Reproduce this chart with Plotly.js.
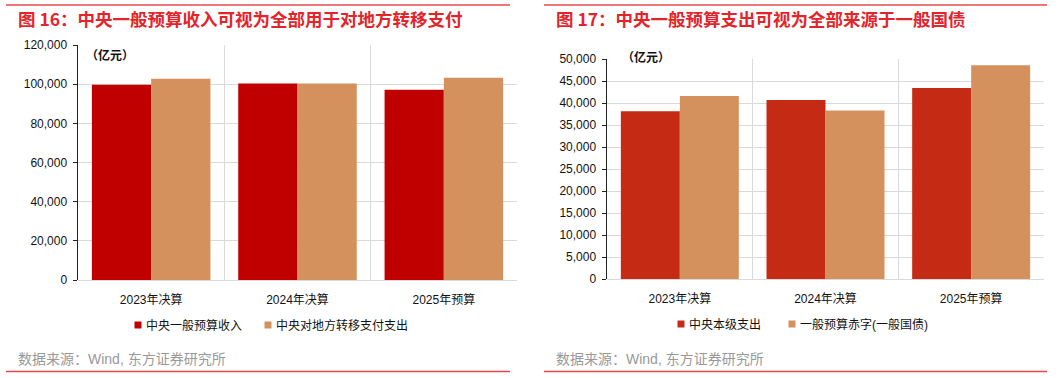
<!DOCTYPE html>
<html>
<head>
<meta charset="utf-8">
<script src="https://cdn.plot.ly/plotly-3.0.1.min.js"></script>
<style>
html,body{margin:0;padding:0;background:#fff;}
#chart{width:1061px;height:378px;}
</style>
</head>
<body>
<div id="chart"></div>
<script>
// ---- data ----
const categories = ['2023年决算', '2024年决算', '2025年预算'];
const revenueCentral = [99700, 100400, 97200];      // 中央一般预算收入
const transferLocal = [102800, 100300, 103300];     // 中央对地方转移支付支出
const expenditureCentral = [38100, 40700, 43400];   // 中央本级支出
const deficitBonds = [41600, 38300, 48600];         // 一般预算赤字(一般国债)
const leftNames = ['中央一般预算收入', '中央对地方转移支付支出'];
const rightNames = ['中央本级支出', '一般预算赤字(一般国债)'];
const leftTitle = '图 16：中央一般预算收入可视为全部用于对地方转移支付';
const rightTitle = '图 17：中央一般预算支出可视为全部来源于一般国债';
const sourceText = '数据来源：Wind, 东方证券研究所';
const unitText = '（亿元）';

// ---- styles ----
const W = 1061, H = 378;
const px = x => x / W;
const py = y => 1 - y / H;
const RED1 = '#C00000', RED2 = '#C52B14', ORANGE = '#D4915D';
const TITLE_RED = '#E3242B';
const GRID = '#D9D9D9';
const FONT = 'Liberation Sans, Arial, Noto Sans CJK SC, sans-serif';
const CJK = 'Noto Sans CJK SC, Liberation Sans, sans-serif';

const traces = [
  {type: 'bar', x: categories, y: revenueCentral, name: leftNames[0], marker: {color: RED1}, xaxis: 'x', yaxis: 'y', showlegend: false, hoverinfo: 'none'},
  {type: 'bar', x: categories, y: transferLocal, name: leftNames[1], marker: {color: ORANGE}, xaxis: 'x', yaxis: 'y', showlegend: false, hoverinfo: 'none'},
  {type: 'bar', x: categories, y: expenditureCentral, name: rightNames[0], marker: {color: RED2}, xaxis: 'x2', yaxis: 'y2', showlegend: false, hoverinfo: 'none'},
  {type: 'bar', x: categories, y: deficitBonds, name: rightNames[1], marker: {color: ORANGE}, xaxis: 'x2', yaxis: 'y2', showlegend: false, hoverinfo: 'none'}
];

const xCommon = {
  type: 'category', tickson: 'boundaries', showgrid: true, gridcolor: GRID, gridwidth: 1,
  ticks: '', showline: false, zeroline: false,
  tickfont: {family: FONT, size: 12, color: '#111'}, ticklabelstandoff: 11, fixedrange: true
};
const yCommon = {
  showgrid: true, gridcolor: GRID, gridwidth: 1, zeroline: true, zerolinecolor: GRID, zerolinewidth: 1,
  showline: true, linecolor: '#222', linewidth: 1.5, ticks: 'outside', ticklen: 4, tickcolor: '#222', tickwidth: 1,
  tickformat: ',', separatethousands: true,
  tickfont: {family: FONT, size: 12, color: '#111'}, ticklabelstandoff: 3, fixedrange: true
};

const annotations = [];
const shapes = [];
function addText(text, x, y, opts) {
  annotations.push(Object.assign({text: text, x: px(x), y: py(y), xref: 'paper', yref: 'paper',
    showarrow: false, xanchor: 'left', yanchor: 'middle'}, opts));
}
// titles
addText('<b>' + leftTitle + '</b>', 16, 19, {font: {family: CJK, size: 17.5, color: TITLE_RED}});
addText('<b>' + rightTitle + '</b>', 554, 19, {font: {family: CJK, size: 17.5, color: TITLE_RED}});
// units
addText('<b>' + unitText + '</b>', 84, 55, {font: {family: CJK, size: 12, color: '#111'}});
addText('<b>' + unitText + '</b>', 620, 56, {font: {family: CJK, size: 12, color: '#111'}});
// sources
addText(sourceText, 16, 359, {font: {family: FONT, size: 14, color: '#999'}});
addText(sourceText, 554, 359, {font: {family: FONT, size: 14, color: '#999'}});
// legends
function legendItem(name, color, x, y) {
  shapes.push({type: 'rect', xref: 'paper', yref: 'paper', x0: px(x - 3.5), x1: px(x + 3.5), y0: py(y + 3.5), y1: py(y - 3.5),
    fillcolor: color, line: {width: 0}});
  addText(name, x + 6, y, {font: {family: FONT, size: 12, color: '#111'}});
}
legendItem(leftNames[0], RED1, 138, 325);
legendItem(leftNames[1], ORANGE, 268, 325);
legendItem(rightNames[0], RED2, 681, 324);
legendItem(rightNames[1], ORANGE, 792, 324);
// frame lines
[[6, 510], [544, 1047]].forEach(([a, b]) => {
  shapes.push({type: 'line', xref: 'paper', yref: 'paper', x0: px(a), x1: px(b), y0: py(5), y1: py(5), line: {color: '#E8474C', width: 1.5}});
  shapes.push({type: 'line', xref: 'paper', yref: 'paper', x0: px(a), x1: px(b), y0: py(371.5), y1: py(371.5), line: {color: '#E8474C', width: 1.5}});
});

const layout = {
  width: W, height: H, margin: {l: 0, r: 0, t: 0, b: 0},
  paper_bgcolor: '#fff', plot_bgcolor: '#fff',
  barmode: 'group', bargap: 0.19, bargroupgap: 0,
  showlegend: false,
  xaxis: Object.assign({}, xCommon, {domain: [px(78), px(517)], anchor: 'y'}),
  yaxis: Object.assign({}, yCommon, {domain: [py(280), py(45)], range: [0, 120000], dtick: 20000, anchor: 'x'}),
  xaxis2: Object.assign({}, xCommon, {domain: [px(607), px(1044)], anchor: 'y2'}),
  yaxis2: Object.assign({}, yCommon, {domain: [py(279), py(59)], range: [0, 50000], dtick: 5000, anchor: 'x2'}),
  annotations: annotations,
  shapes: shapes
};

Plotly.newPlot('chart', traces, layout, {staticPlot: true, displayModeBar: false});
</script>
</body>
</html>
